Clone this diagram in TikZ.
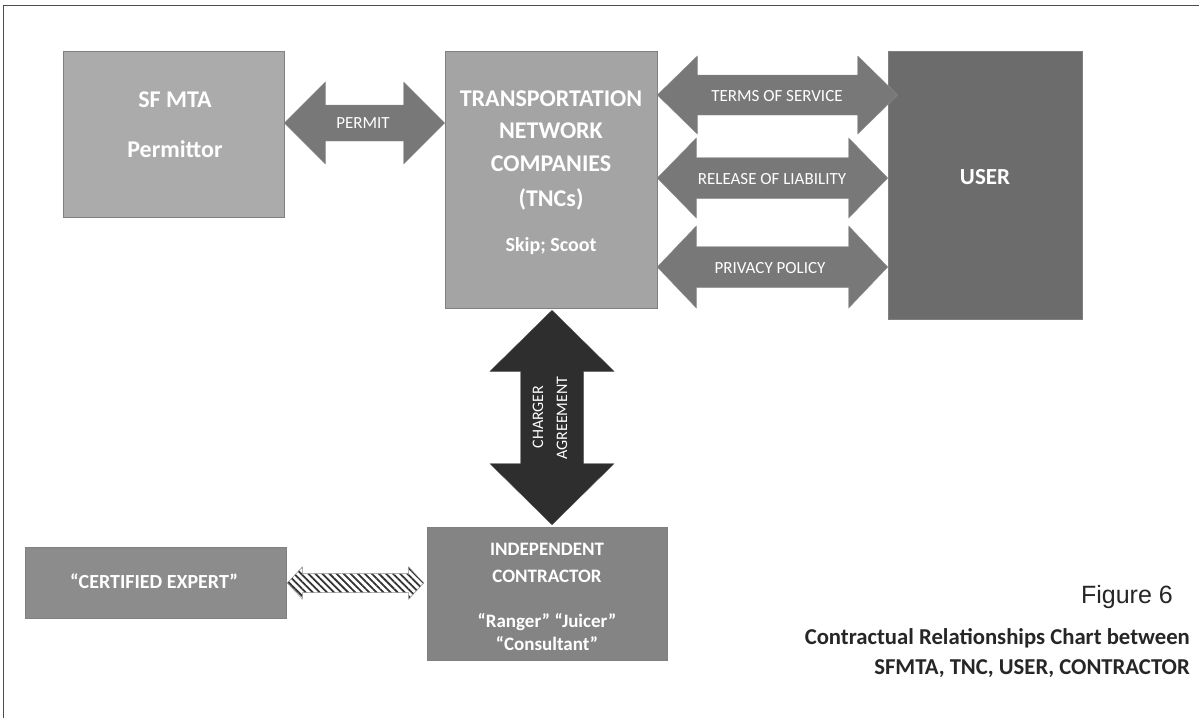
\documentclass[tikz,border=0pt]{standalone}
\usepackage{fontspec}
\setmainfont{Carlito}
\newfontfamily\arialfont{Liberation Sans}
\usetikzlibrary{calc,patterns.meta}
\definecolor{sfgray}{HTML}{ABABAB}
\definecolor{tncgray}{HTML}{A4A4A4}
\definecolor{usergray}{HTML}{6C6C6C}
\definecolor{expgray}{HTML}{8C8C8C}
\definecolor{icgray}{HTML}{848484}
\definecolor{arrgray}{HTML}{787878}
\definecolor{darkarr}{HTML}{2E2E2E}
\newcommand\hdarrow[6]{%
  \path[#6] (#1) -- ($(#1)+(#3,-#4)$) -- ($(#1)+(#3,-#5)$) -- ($(#2)+(-#3,-#5)$) -- ($(#2)+(-#3,-#4)$) -- (#2)
    -- ($(#2)+(-#3,#4)$) -- ($(#2)+(-#3,#5)$) -- ($(#1)+(#3,#5)$) -- ($(#1)+(#3,#4)$) -- cycle;}
\newcommand\vdarrow[6]{%
  \path[#6] (#1) -- ($(#1)+(#4,#3)$) -- ($(#1)+(#5,#3)$) -- ($(#2)+(#5,-#3)$) -- ($(#2)+(#4,-#3)$) -- (#2)
    -- ($(#2)+(-#4,-#3)$) -- ($(#2)+(-#5,-#3)$) -- ($(#1)+(-#5,#3)$) -- ($(#1)+(-#4,#3)$) -- cycle;}
\begin{document}
\begin{tikzpicture}[x=1pt,y=-1pt,
  box/.style={draw=black!50, line width=0.6pt, inner sep=0pt},
  arr/.style={fill=arrgray, draw=black!45, line width=0.4pt},
  tbig/.style={font=\fontsize{24}{28}\selectfont\bfseries, text=white, inner sep=0pt, anchor=base},
  tmid/.style={font=\fontsize{20}{24}\selectfont\bfseries, text=white, inner sep=0pt, anchor=base},
  tic/.style={font=\fontsize{19}{23}\selectfont\bfseries, text=white, inner sep=0pt, anchor=base},
  tsmall/.style={font=\fontsize{17}{20}\selectfont, text=white, inner sep=0pt, anchor=base},
  captxt/.style={font=\fontsize{22.7}{27}\selectfont\bfseries, text=black!85, inner sep=0pt, anchor=base east}]
\useasboundingbox (0,0) rectangle (1199,718);
\fill[white] (0,0) rectangle (1199,718);
\draw[black!70, line width=0.8pt] (3,718) -- (3,5) -- (1199,5);

% boxes
\node[box, fill=sfgray, minimum width=221, minimum height=166] (sfmta) at (173.5,134) {};
\node[box, fill=tncgray, minimum width=212, minimum height=257] (tnc) at (551,179.5) {};
\node[box, fill=usergray, minimum width=194, minimum height=268] (user) at (985,185) {};
\node[box, fill=icgray, minimum width=240, minimum height=133] (ic) at (547,593.5) {};
\node[box, fill=expgray, minimum width=261, minimum height=71] (exp) at (155.5,582.5) {};

% arrow end points
\coordinate (pA) at ($(sfmta.east)+(0,-11)$);
\coordinate (pB) at (pA -| tnc.west);
\coordinate (tA) at (tnc.east |- 0,95);
\coordinate (tB) at ($(user.west |- tA)+(10,0)$);
\coordinate (rA) at (tnc.east |- 0,178);
\coordinate (rB) at (user.west |- rA);
\coordinate (vA) at (tnc.east |- 0,267);
\coordinate (vB) at (user.west |- vA);
\coordinate (cA) at ($(tnc.south)+(1,2)$);
\coordinate (cB) at ($(cA |- ic.north)-(0,2)$);
\coordinate (hA) at ($(exp.east |- 0,583)+(1,0)$);
\coordinate (hB) at ($(ic.west |- hA)-(3,0)$);

% arrows
\hdarrow{pA}{pB}{41}{41}{18}{arr}
\hdarrow{tA}{tB}{40}{39}{20}{arr}
\hdarrow{rA}{rB}{39}{40}{20.5}{arr}
\hdarrow{vA}{vB}{39}{41}{20.5}{arr}
\vdarrow{cA}{cB}{61}{62}{31.5}{fill=darkarr, draw=black!70, line width=0.4pt}
\hdarrow{hA}{hB}{15}{16}{9.5}{fill=white, draw=black!45, line width=0.5pt, pattern={Lines[angle=-45,distance=5pt,line width=1.8pt]}, pattern color=black!80}

% box texts
\node[tbig] (sfmtaT1) at (175,107) {SF MTA};
\node[tbig] (sfmtaT2) at (175,157) {Permittor};
\node[tbig] (tncT1) at (551,106) {TRANSPORTATION};
\node[tbig] (tncT2) at (551,138) {NETWORK};
\node[tbig] (tncT3) at (551,171) {COMPANIES};
\node[tbig] (tncT4) at (551,206) {(TNCs)};
\node[tmid] (tncT5) at (551,251) {Skip; Scoot};
\node[font=\fontsize{23}{27}\selectfont\bfseries, text=white, inner sep=0pt, anchor=base] (userT) at (985,184) {USER};
\node[tic, font=\fontsize{20}{24}\selectfont\bfseries] (expT) at (154,588) {“CERTIFIED EXPERT”};
\node[tic] (icT1) at (547,555) {INDEPENDENT};
\node[tic] (icT2) at (547,582) {CONTRACTOR};
\node[tic] (icT3) at (547,627) {“Ranger” “Juicer”};
\node[tic] (icT4) at (547,650) {“Consultant”};

% arrow labels
\node[tsmall] (permitL) at (363,128) {PERMIT};
\node[tsmall] (tosL) at (777,101) {TERMS OF SERVICE};
\node[tsmall] (relL) at (772,184) {RELEASE OF LIABILITY};
\node[tsmall] (privL) at (770,273) {PRIVACY POLICY};
\node[tsmall, font=\fontsize{16}{19}\selectfont, rotate=90] (chL1) at (543,417) {CHARGER};
\node[tsmall, font=\fontsize{16}{19}\selectfont, rotate=90] (chL2) at (567,418) {AGREEMENT};

% caption
\node[inner sep=0pt, anchor=base east, font=\arialfont\fontsize{25}{29}\selectfont, text=black!85] (figT) at (1173,603) {Figure 6};
\node[captxt] (capT1) at (1190,644) {Contractual Relationships Chart between};
\node[captxt] (capT2) at (1190,674) {SFMTA, TNC, USER, CONTRACTOR};
\end{tikzpicture}
\end{document}
